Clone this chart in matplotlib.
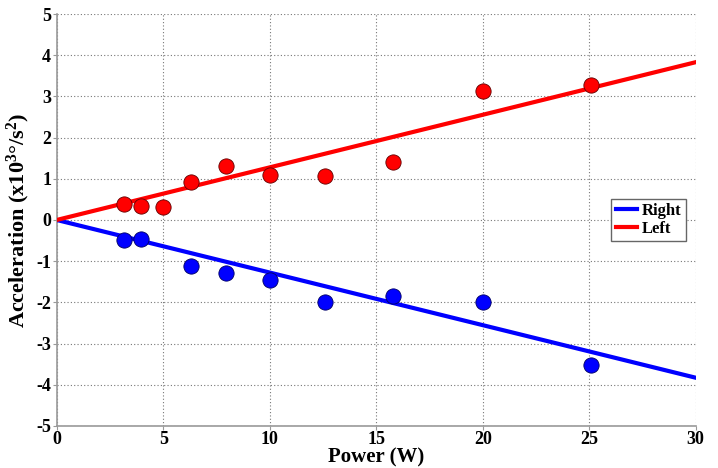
import numpy as np
import matplotlib.pyplot as plt

plt.rcParams['font.family'] = ['Liberation Serif', 'DejaVu Serif']
plt.rcParams['font.weight'] = 'bold'
plt.rcParams['axes.unicode_minus'] = False
plt.rcParams['mathtext.fontset'] = 'custom'
plt.rcParams['mathtext.rm'] = 'Liberation Serif:bold'
plt.rcParams['mathtext.bf'] = 'Liberation Serif:bold'
plt.rcParams['mathtext.it'] = 'Liberation Serif:bold'
plt.rcParams['mathtext.default'] = 'rm'

# power levels (W)
power_left = [3.16, 3.98, 5.01, 6.31, 7.94, 10.0, 12.6, 15.8, 20.0, 25.1]
acc_left = [0.38, 0.34, 0.31, 0.93, 1.32, 1.10, 1.07, 1.40, 3.13, 3.28]
power_right = [3.16, 3.98, 6.31, 7.94, 10.0, 12.6, 15.8, 20.0, 25.1]
acc_right = [-0.48, -0.47, -1.13, -1.28, -1.46, -2.00, -1.85, -1.98, -3.52]
# fitted slopes through origin
slope_left = 0.1277
slope_right = -0.1277

fig = plt.figure(figsize=(7.18, 4.68), dpi=100)
ax = fig.add_axes([0.079, 0.09, 0.890, 0.880])

xfit = np.array([0, 30])
ax.plot(xfit, slope_right * xfit, color='blue', lw=3, label='Right', zorder=3)
ax.plot(xfit, slope_left * xfit, color='red', lw=3, label='Left', zorder=3)
ax.plot(power_left, acc_left, 'o', ms=11, mfc='red', mec='#600000', mew=0.6, zorder=4)
ax.plot(power_right, acc_right, 'o', ms=11, mfc='blue', mec='#000060', mew=0.6, zorder=4)

ax.set_xlim(0, 30)
ax.set_ylim(-5, 5)
ax.set_xticks(range(0, 31, 5))
ax.set_yticks(range(-5, 6))
ax.grid(True, ls=(0, (1, 2)), color='#777777', lw=0.8)
for s in ['top', 'right']:
    ax.spines[s].set_visible(False)
for s in ['left', 'bottom']:
    ax.spines[s].set_color('#999999')
    ax.spines[s].set_linewidth(1.2)
ax.tick_params(direction='out', length=3, color='#999999', labelsize=13, pad=1)
for lab in ax.get_xticklabels() + ax.get_yticklabels():
    lab.set_fontweight('bold')

ax.set_xlabel('Power (W)', fontsize=15, fontweight='bold', labelpad=-1)
ax.set_ylabel('Acceleration (x10$^{3}$°/s$^{2}$)', fontsize=16,
              fontweight='bold', labelpad=3)

leg = ax.legend(loc='center right', bbox_to_anchor=(0.99, 0.5),
                prop={'weight': 'bold', 'size': 12}, handlelength=1.3,
                handletextpad=0.3, borderpad=0.25, labelspacing=0.15,
                borderaxespad=0.2, fancybox=False, edgecolor='#666666', framealpha=1)
leg.get_frame().set_linewidth(1.0)

fig.savefig('out.png', dpi=100)
